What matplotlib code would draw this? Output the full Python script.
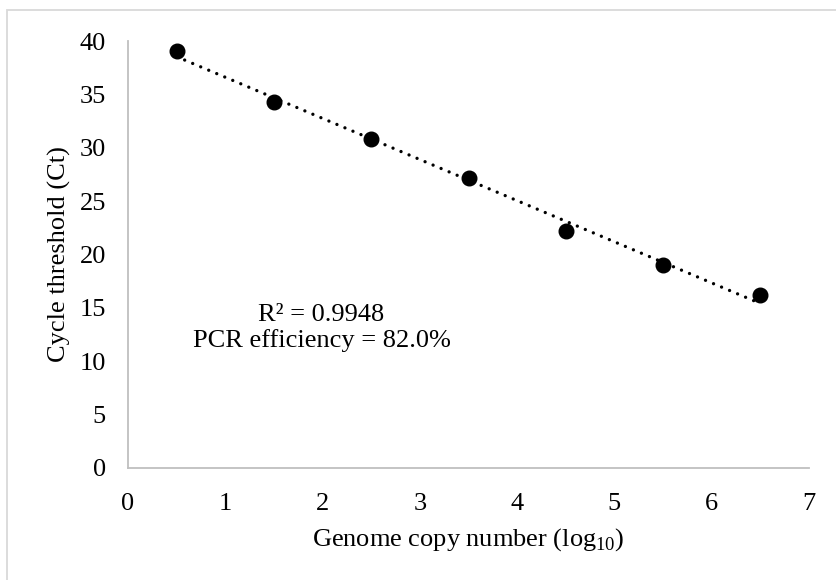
import numpy as np
import matplotlib
matplotlib.use("Agg")
import matplotlib.pyplot as plt
from matplotlib.patches import Rectangle

# data
log_copies = [0.5, 1.5, 2.5, 3.5, 4.5, 5.5, 6.5]
ct_values = [39.1, 34.3, 30.8, 27.2, 22.2, 19.0, 16.2]
x_ticks = [0, 1, 2, 3, 4, 5, 6, 7]
y_ticks = [0, 5, 10, 15, 20, 25, 30, 35, 40]
r2_text = "R² = 0.9948"
eff_text = "PCR efficiency = 82.0%"

plt.rcParams['font.family'] = ['Liberation Serif', 'DejaVu Serif']
plt.rcParams['mathtext.fontset'] = 'custom'
plt.rcParams['mathtext.rm'] = 'Liberation Serif'

fig = plt.figure(figsize=(8.36, 5.8), dpi=100)
ax = fig.add_axes([128/836, 1 - 468/580, (809 - 128)/836, (468 - 41)/580])

# chart-area border (cut off at right/bottom in the original)
fig.patches.append(Rectangle((7/836, -0.1), 1.2, 1.1 - 10/580, transform=fig.transFigure,
                             fill=False, edgecolor='#d9d9d9', linewidth=1.3))

x = np.array(log_copies)
y = np.array(ct_values)
slope, intercept = np.polyfit(x, y, 1)
ax.plot(x, slope*x + intercept, color='black', linestyle=(0, (0.01, 2.6)),
        linewidth=2.4, dash_capstyle='round', zorder=2)
ax.plot(x, y, 'o', color='black', markersize=10.5, zorder=3)

ax.set_xlim(0, 7)
ax.set_ylim(0, 40)
ax.set_xticks(x_ticks)
ax.set_yticks(y_ticks)
ax.tick_params(length=0, labelsize=19)
ax.tick_params(axis='x', pad=18)
ax.tick_params(axis='y', pad=16)
for s in ['top', 'right']:
    ax.spines[s].set_visible(False)
for s in ['left', 'bottom']:
    ax.spines[s].set_color('#bfbfbf')
    ax.spines[s].set_linewidth(1.3)

ax.set_xlabel(r'Genome copy number (log$_{\mathrm{10}}$)', fontsize=19, labelpad=8)
ax.set_ylabel('Cycle threshold (Ct)', fontsize=19, labelpad=6)

ax.text(1.99, 13.1, r2_text + "\n" + eff_text, fontsize=19, ha='center', va='center',
        linespacing=1.2)

fig.savefig('out.png', dpi=100)
